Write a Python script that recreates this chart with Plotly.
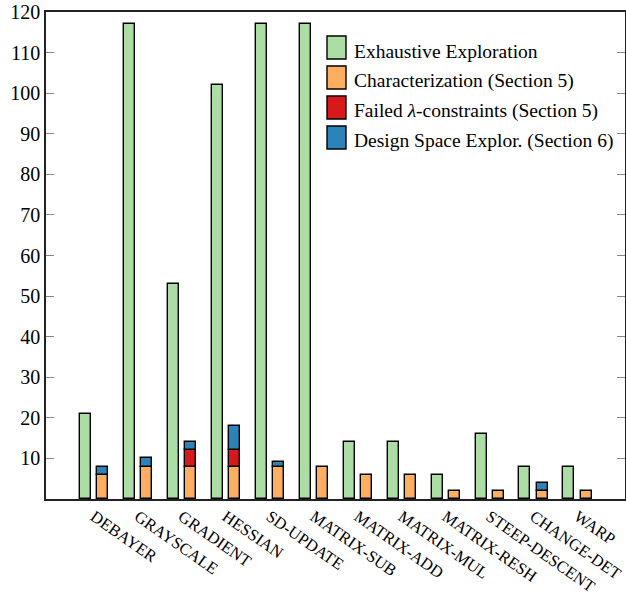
import plotly.graph_objects as go

categories = ["DEBAYER", "GRAYSCALE", "GRADIENT", "HESSIAN", "SD-UPDATE", "MATRIX-SUB",
              "MATRIX-ADD", "MATRIX-MUL", "MATRIX-RESH", "STEEP-DESCENT", "CHANGE-DET", "WARP"]
exhaustive = [21, 117, 53, 102, 117, 117, 14, 14, 6, 16, 8, 8]
characterization = [6, 8, 8, 8, 8, 8, 6, 6, 2, 2, 2, 2]
failed_lambda = [0, 0, 4, 4, 0, 0, 0, 0, 0, 0, 0, 0]
design_space = [2, 2, 2, 6, 1, 0, 0, 0, 0, 0, 2, 0]
y_ticks = [10, 20, 30, 40, 50, 60, 70, 80, 90, 100, 110, 120]

series_names = ["Exhaustive Exploration", "Characterization (Section 5)",
                "Failed <i>λ</i>-constraints (Section 5)", "Design Space Explor. (Section 6)"]
colors = ["#abdda4", "#fdae61", "#d7191c", "#2b83ba"]

W, H = 626, 599
L, R, T, B = 46, 1, 12, 100
pw, ph = W - L - R, H - T - B

x = list(range(len(categories)))
bw = 0.25
line = dict(color="black", width=1.4)

def nz(v):
    return [a if a else None for a in v]

red_base = characterization
blue_base = [c + f for c, f in zip(characterization, failed_lambda)]

fig = go.Figure()
fig.add_trace(go.Bar(x=x, y=exhaustive, base=0, width=bw, offset=-0.32,
                     marker=dict(color=colors[0], line=line), name=series_names[0]))
fig.add_trace(go.Bar(x=x, y=characterization, base=0, width=bw, offset=0.07,
                     marker=dict(color=colors[1], line=line), name=series_names[1]))
fig.add_trace(go.Bar(x=x, y=nz(failed_lambda), base=red_base, width=bw, offset=0.07,
                     marker=dict(color=colors[2], line=line), name=series_names[2]))
fig.add_trace(go.Bar(x=x, y=nz(design_space), base=blue_base, width=bw, offset=0.07,
                     marker=dict(color=colors[3], line=line), name=series_names[3]))

# custom legend (layout decoration)
shapes = []
annotations = []
for i, (nm, c) in enumerate(zip(series_names, colors)):
    top = 36 + 30 * i
    x0 = (327 - L) / pw
    x1 = (346 - L) / pw
    y0 = (H - B - top) / ph
    y1 = (H - B - (top + 23)) / ph
    shapes.append(dict(type="rect", xref="paper", yref="paper", x0=x0, x1=x1, y0=y1, y1=y0,
                       fillcolor=c, line=dict(color="black", width=1.4)))
    annotations.append(dict(xref="paper", yref="paper", x=(352 - L) / pw,
                            y=(H - B - (top + 15)) / ph, text=nm, showarrow=False,
                            xanchor="left", yanchor="middle",
                            font=dict(family="Liberation Serif", size=19.5, color="black")))

fig.update_layout(
    width=W, height=H,
    margin=dict(l=L, r=R, t=T, b=B, pad=0, autoexpand=False),
    barmode="overlay",
    bargap=0,
    plot_bgcolor="white", paper_bgcolor="white",
    showlegend=False,
    shapes=shapes,
    annotations=annotations,
    xaxis=dict(range=[-1.09, 12.08], tickmode="array", tickvals=x, ticktext=categories,
               tickangle=35, ticks="", showgrid=False, zeroline=False, automargin=False,
               showline=True, linecolor="#222", linewidth=1.5, mirror=True,
               tickfont=dict(family="Liberation Serif", size=16.5, color="black")),
    yaxis=dict(range=[0, 120], tickmode="array", tickvals=y_ticks, automargin=False,
               ticks="inside", ticklen=8, tickwidth=1, tickcolor="#888",
               showgrid=False, zeroline=False,
               showline=True, linecolor="#222", linewidth=1.5, mirror="ticks",
               tickfont=dict(family="Liberation Serif", size=20, color="black")),
)

fig.write_html("out.html", config={"displayModeBar": False},
               post_script="document.body.style.margin='0';document.body.style.overflow='hidden';")
